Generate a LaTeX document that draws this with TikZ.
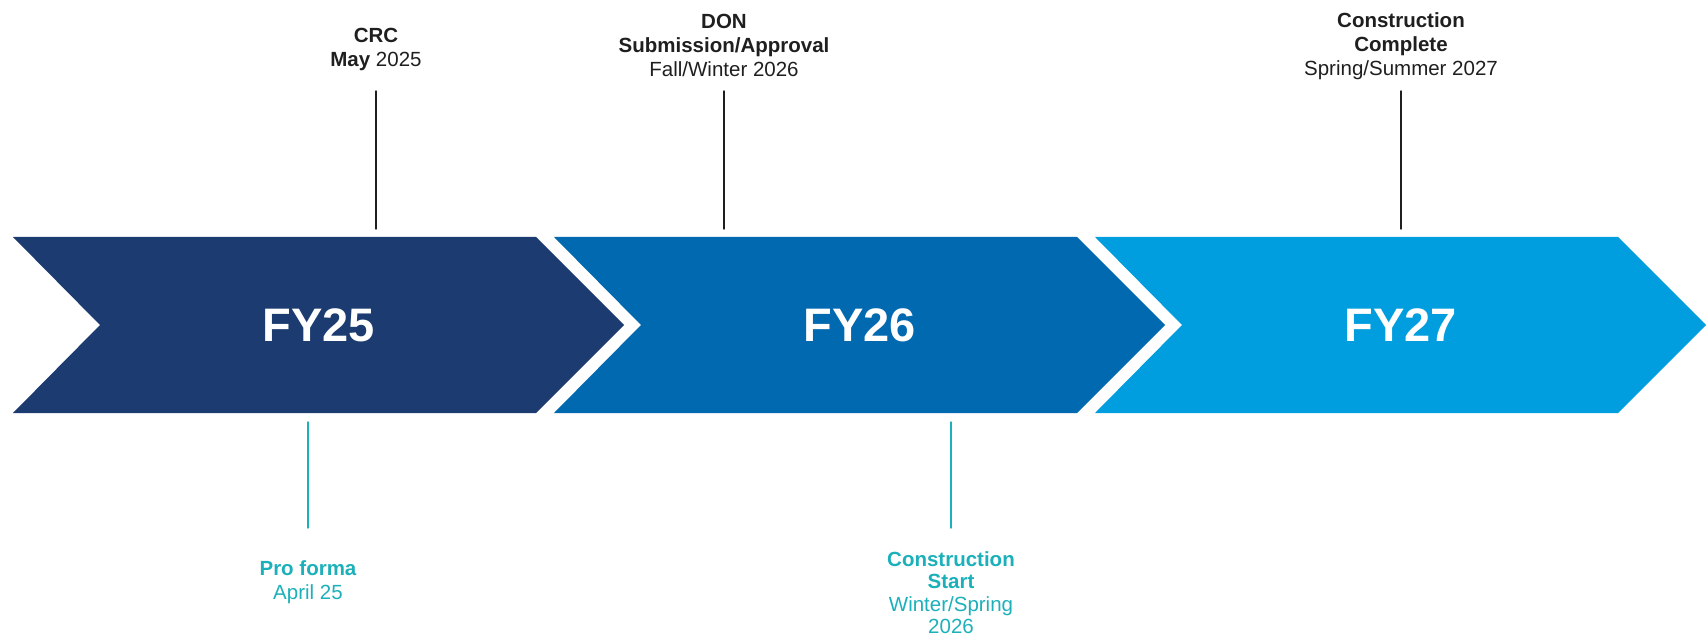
\documentclass[tikz,border=0pt]{standalone}
\usepackage{fontspec}
\setmainfont{Liberation Sans}
\usetikzlibrary{positioning}
\definecolor{qqnavy}{rgb}{0.11,0.23,0.44}
\definecolor{qqblue}{rgb}{0.,0.41,0.69}
\definecolor{qqsky}{rgb}{0.,0.62,0.87}
\definecolor{qqteal}{rgb}{0.11,0.69,0.73}
\definecolor{qqdark}{rgb}{0.12,0.12,0.12}
\tikzset{
  toplabel/.style={align=center,inner sep=0pt,text=qqdark,font=\fontsize{20.5}{24}\selectfont},
  botlabel/.style={toplabel,text=qqteal},
  fylabel/.style={inner sep=0pt,text=white,font=\fontsize{47}{47}\selectfont\bfseries},
  tick/.style={line width=1.4pt,color=qqdark},
  botick/.style={line width=1.4pt,color=qqteal}
}

\begin{document}
\begin{tikzpicture}[line cap=round,line join=round,x=1pt,y=-1pt]
\useasboundingbox (0,0) rectangle (1708,636);
% chevrons
\foreach \xo/\col in {13/qqnavy,554/qqblue,1095/qqsky}
  \fill [\col] (\xo,237) -- (\xo+523,237) -- (\xo+611,325) -- (\xo+523,413) -- (\xo,413) -- (\xo+87,325) -- cycle;
\node [fylabel] (fy25) at (318.5,325) {FY25};
\node [fylabel] (fy26) at (859.5,325) {FY26};
\node [fylabel] (fy27) at (1400.5,325) {FY27};
% milestones above
\coordinate (crcpt) at (376,229);
\coordinate (donpt) at (724,229);
\coordinate (endpt) at (1401,229);
\node [toplabel,above=158pt of crcpt] (crc) {\bfseries CRC\\{\bfseries May} 2025};
\node [toplabel,above=152pt of donpt] (don) {\bfseries DON\\\bfseries Submission/Approval\\Fall/Winter 2026};
\node [toplabel,above=149pt of endpt] (cend) {\bfseries Construction\\\bfseries Complete\\Spring/Summer 2027};
\draw [tick,shorten <=20pt] (crc) -- (crcpt);
\draw [tick,shorten <=14pt] (don) -- (donpt);
\draw [tick,shorten <=11pt] (cend) -- (endpt);
% milestones below
\coordinate (pfpt) at (308,422);
\coordinate (cstpt) at (951,422);
\node [botlabel,below=138pt of pfpt] (pf) {\bfseries Pro forma\\April 25};
\node [botlabel,below=129pt of cstpt,font=\fontsize{20.5}{22.5}\selectfont] (cst) {\bfseries Construction\\\bfseries Start\\Winter/Spring\\2026};
\draw [botick,shorten <=32pt] (pf) -- (pfpt);
\draw [botick,shorten <=23pt] (cst) -- (cstpt);
\end{tikzpicture}
\end{document}
